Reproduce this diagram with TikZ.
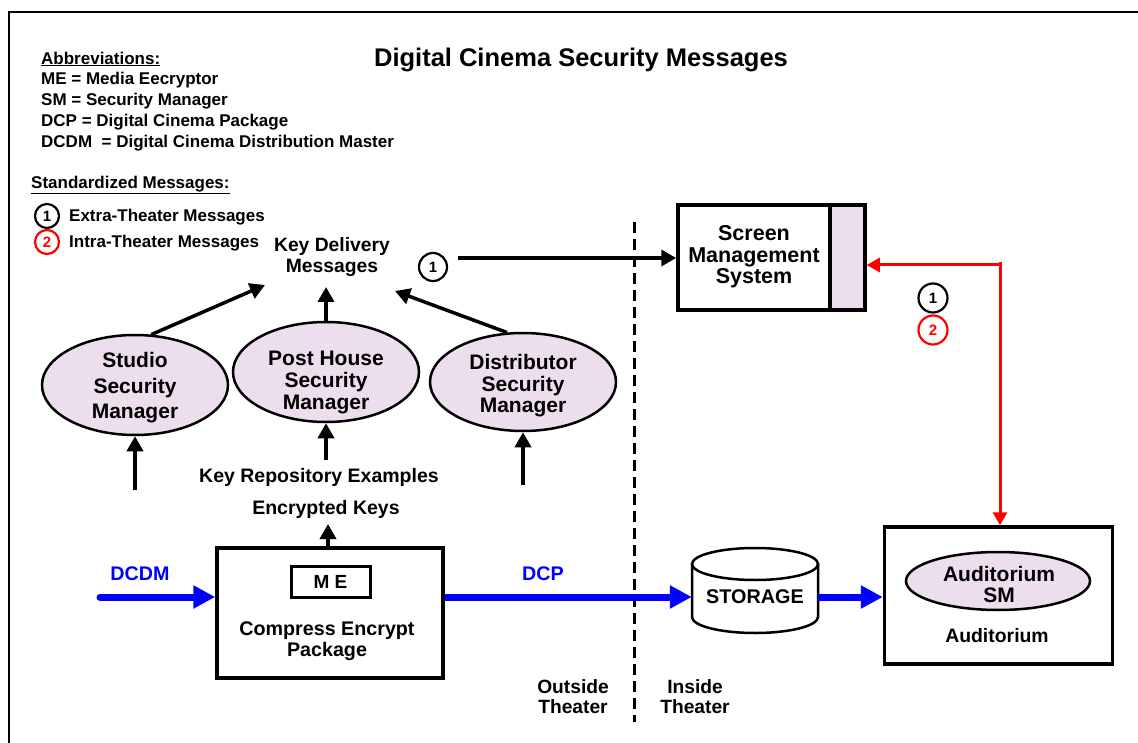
\documentclass[tikz,border=0pt]{standalone}
\usepackage{fontspec}
\setmainfont{Liberation Sans}
\usetikzlibrary{arrows.meta,shapes.geometric}
\definecolor{lav}{RGB}{236,222,236}
\definecolor{dblue}{RGB}{0,0,255}
\definecolor{dred}{RGB}{255,0,0}
\tikzset{
  txt/.style 2 args={font=\bfseries\fontsize{#1}{#2}\selectfont, align=center, inner sep=0pt},
  box/.style={draw, line width=3.5pt, fill=white},
  sm/.style={ellipse, draw, line width=2.5pt, fill=lav, inner sep=0pt},
  blk/.style={line width=3.5pt, -{Triangle[length=15pt,width=16pt]}},
  blu/.style={draw=dblue, line width=7pt, -{Triangle[length=22pt,width=22pt]}},
  rd/.style={draw=dred, line width=3pt, -{Triangle[length=13pt,width=14pt]}},
  num/.style={circle, draw, line width=2.2pt, inner sep=0pt, minimum size=#1, font=\bfseries\fontsize{15}{15}\selectfont},
}
\begin{document}
\begin{tikzpicture}[x=1pt,y=-1pt]
\useasboundingbox (0,0) rectangle (1138,743);
\draw[line width=1.5pt] (9,12) rectangle (1160,760);
% title
\node[txt={25.5}{28}] (title) at (581,60) {Digital Cinema Security Messages};
% abbreviations
\node[txt={17}{20}, anchor=west] (ab0) at (41,59) {\underline{Abbreviations:}};
\node[txt={17}{20}, anchor=west] (ab1) at (41,80) {ME = Media Eecryptor};
\node[txt={17}{20}, anchor=west] (ab2) at (41,101) {SM = Security Manager};
\node[txt={17}{20}, anchor=west] (ab3) at (41,122) {DCP = Digital Cinema Package};
\node[txt={17}{20}, anchor=west] (ab4) at (41,143) {DCDM \ = Digital Cinema Distribution Master};
% legend
\node[txt={17}{20}, anchor=west] (sm0) at (31,185) {\underline{Standardized Messages:}};
\node[num=24] (l1) at (47,216) {1};
\node[txt={17}{20}, anchor=west] (l1t) at (69,217) {Extra-Theater Messages};
\node[num=24, draw=dred, text=dred] (l2) at (47,242) {2};
\node[txt={17}{20}, anchor=west] (l2t) at (69,243) {Intra-Theater Messages};
% key delivery
\node[txt={19.3}{21}] (kdm) at (332,257) {Key Delivery\\Messages};
\node[num=28] (c1) at (433,267) {1};
% SMS
\node[box, minimum width=187pt, minimum height=105pt, inner sep=0pt] (sms) at (771.5,257.5) {};
\fill[lav] (830,207) rectangle (864,309);
\draw[line width=3.5pt] (830,205) -- (830,310);
\draw[line width=3.5pt] (678,205) rectangle (865,310);
\node[txt={21.5}{21.5}] (smst) at (754,257) {Screen\\Management\\System};
% dashed divider
\draw[line width=3pt, dash pattern=on 11pt off 6pt] (634,222) -- (634,722);
\coordinate (c1e) at (458,258);
\draw[blk] (c1e) -- (sms.west |- c1e);
% security managers
\node[sm, minimum width=186pt, minimum height=100pt] (studio) at (135,385) {};
\node[txt={21}{25.5}] at (135,388) {Studio\\Security\\Manager};
\node[sm, minimum width=186pt, minimum height=100pt] (post) at (326,372) {};
\node[txt={21}{22}] at (326,383) {Post House\\Security\\Manager};
\node[sm, minimum width=186pt, minimum height=98pt] (dist) at (523,382) {};
\node[txt={21}{21.5}] at (523,386) {Distributor\\Security\\Manager};
\coordinate (kdm1) at (265,285);
\coordinate (kdm2) at (326,287);
\coordinate (kdm3) at (395,291);
\draw[blk] (studio.72) -- (kdm1);
\draw[blk] (post.north) -- (kdm2);
\draw[blk] (dist.108) -- (kdm3);
\coordinate (s1) at (135,490);
\coordinate (s3) at (522,485);
\draw[blk] (s1) -- (studio.south);
\draw[blk] (dist.south |- s3) -- (dist.south);
% key repository
\node[txt={19.5}{21}] (krep) at (319,477) {Key Repository Examples};
\node[txt={19.5}{21}] (ekeys) at (326,509) {Encrypted Keys};
\coordinate (kr) at (326,460);
\draw[blk] (kr) -- (post.south);
% compress box
\node[box, minimum width=226pt, minimum height=130pt] (cep) at (330,613) {};
\node[draw, line width=3pt, minimum width=79pt, minimum height=31pt, inner sep=0pt, font=\bfseries\fontsize{19}{19}\selectfont] (me) at (330.5,581.5) {M E};
\node[txt={19.7}{21}] (cept) at (327,641) {Compress Encrypt\\Package};
\coordinate (ek) at (328,524);
\draw[blk] (cep.north -| ek) -- (ek);
% DCDM / DCP
\node[txt={19.7}{21}, text=dblue] (dcdm) at (140,574) {DCDM};
\node[txt={19.7}{21}, text=dblue] (dcp) at (543,574) {DCP};
\coordinate (dcdms) at (100,597);
% storage cylinder
\fill[white] (692,564) -- (692,617) arc[start angle=180, end angle=0, x radius=63, y radius=16] -- (818,564) -- cycle;
\draw[line width=2.5pt] (692,564) -- (692,617) arc[start angle=180, end angle=0, x radius=63, y radius=16] -- (818,564);
\draw[line width=2.5pt] (755,564) ellipse [x radius=63, y radius=16];
\node[txt={19.8}{21}, minimum width=126pt, minimum height=40pt] (stor) at (755,597) {STORAGE};
\draw[blu, line cap=round] (dcdms) -- (cep.west |- dcdms);
\draw[blu] (cep.east |- dcdms) -- (stor.west |- dcdms);
% auditorium
\node[box, minimum width=228pt, minimum height=137pt] (aud) at (998.5,595.5) {};
\node[sm, minimum width=184pt, minimum height=58pt] (asm) at (998,581) {};
\node[txt={21}{21}] (asmt) at (999,584) {Auditorium\\SM};
\node[txt={19.4}{21}] (audt) at (997,636) {Auditorium};
\draw[blu] (stor.east |- dcdms) -- (aud.west |- dcdms);
% red link
\coordinate (rtop) at (1000,262);
\coordinate (rmid) at (1000,265);
\draw[rd] (rtop) -- (rtop |- aud.north);
\draw[rd] (rmid) -- (sms.east |- rmid);
\node[num=29] (r1) at (933,298) {1};
\node[num=29, draw=dred, text=dred] (r2) at (933,330) {2};
% theater labels
\node[txt={19.2}{20}] (out) at (573,697) {Outside\\Theater};
\node[txt={19.2}{20}] (ins) at (695,697) {Inside\\Theater};
\end{tikzpicture}
\end{document}
